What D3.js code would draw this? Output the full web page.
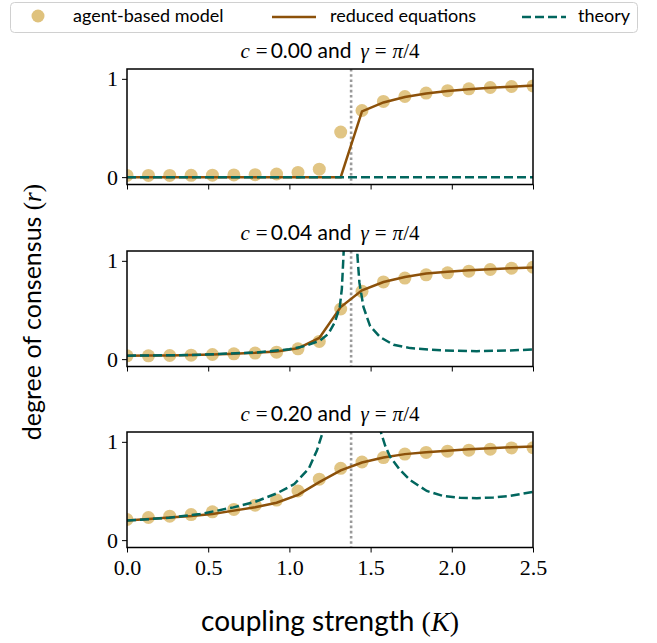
<!DOCTYPE html>
<html>
<head>
<meta charset="utf-8">
<script src="https://cdn.jsdelivr.net/npm/d3@7"></script>
<style>
  body { margin: 0; background: #fff; }
  .sans { font-family: "Lato", "DejaVu Sans", sans-serif; }
  .serif { font-family: "Liberation Serif", "DejaVu Serif", serif; }
</style>
</head>
<body>
<div id="chart"></div>
<script>
// Sample points of the coupling strength K (agent-based model and reduced equations)
const K = [0.000, 0.132, 0.263, 0.395, 0.526, 0.658, 0.789, 0.921, 1.053, 1.184,
           1.316, 1.447, 1.579, 1.711, 1.842, 1.974, 2.105, 2.237, 2.368, 2.500];

// c = 0.00
const abm1 = [0.017, 0.017, 0.017, 0.018, 0.020, 0.022, 0.025, 0.032, 0.048, 0.081,
              0.458, 0.678, 0.770, 0.820, 0.855, 0.880, 0.898, 0.912, 0.922, 0.928];
const red1 = [0, 0, 0, 0, 0, 0, 0, 0, 0, 0,
              0, 0.668, 0.760, 0.815, 0.850, 0.877, 0.895, 0.910, 0.920, 0.932];
const theoryK1 = [0, 2.5];
const theoryR1 = [0, 0];

// c = 0.04
const abm2 = [0.034, 0.034, 0.037, 0.040, 0.047, 0.054, 0.062, 0.071, 0.105, 0.180,
              0.510, 0.690, 0.785, 0.825, 0.858, 0.878, 0.895, 0.912, 0.925, 0.935];
const red2 = [0.035, 0.036, 0.038, 0.042, 0.048, 0.055, 0.064, 0.078, 0.110, 0.215,
              0.530, 0.700, 0.785, 0.835, 0.870, 0.890, 0.905, 0.915, 0.925, 0.932];
const theoryK2 = [0, 0.4, 0.8, 1.0, 1.1, 1.19, 1.24, 1.28, 1.31, 1.323, 1.333, 1.345, null,
                  1.41, 1.419, 1.431, 1.456, 1.497, 1.559, 1.641, 1.744, 1.949, 2.154, 2.359, 2.5];
const theoryR2 = [0.035, 0.042, 0.068, 0.100, 0.135, 0.190, 0.257, 0.376, 0.530, 0.715, 1.05, 1.6, null,
                  1.6, 1.05, 0.78, 0.53, 0.335, 0.224, 0.146, 0.112, 0.088, 0.081, 0.088, 0.098];

// c = 0.20
const abm3 = [0.210, 0.230, 0.244, 0.260, 0.288, 0.312, 0.356, 0.407, 0.500, 0.620,
              0.730, 0.795, 0.840, 0.875, 0.892, 0.905, 0.915, 0.925, 0.938, 0.940];
const red3 = [0.200, 0.215, 0.230, 0.245, 0.265, 0.300, 0.335, 0.380, 0.460, 0.590,
              0.710, 0.790, 0.840, 0.875, 0.895, 0.910, 0.925, 0.935, 0.945, 0.952];
const theoryK3 = [0, 0.13, 0.26, 0.45, 0.655, 0.789, 0.922, 1.03, 1.12, 1.17, 1.20, 1.22, null,
                  1.545, 1.563, 1.59, 1.62, 1.682, 1.744, 1.846, 1.949, 2.051, 2.154, 2.256, 2.359, 2.5];
const theoryR3 = [0.200, 0.213, 0.228, 0.265, 0.333, 0.390, 0.475, 0.570, 0.730, 0.915, 1.07, 1.3, null,
                  1.3, 1.1, 0.96, 0.848, 0.712, 0.610, 0.500, 0.448, 0.430, 0.427, 0.434, 0.450, 0.490];

const cValues = ["0.00", "0.04", "0.20"];
const criticalK = 1.38;
const xTicks = [0, 0.5, 1.0, 1.5, 2.0, 2.5];
const yTicks = [0, 1];

const panels = [
  { c: cValues[0], abm: abm1, red: red1, tK: theoryK1, tR: theoryR1 },
  { c: cValues[1], abm: abm2, red: red2, tK: theoryK2, tR: theoryR2 },
  { c: cValues[2], abm: abm3, red: red3, tK: theoryK3, tR: theoryR3 }
];

// Colours
const dotColor = "#dfc27d",
      redColor = "#8c510a",
      theoryColor = "#01665e";

const width = 657,
      height = 643;

const svg = d3.select("#chart").append("svg")
    .attr("width", width)
    .attr("height", height);

// Shared geometry
const left = 127, right = 533;
const panelTops = [69, 251, 432];
const panelH = 115.5;

const x = d3.scaleLinear().domain([0, 2.5]).range([left, right]);

panels.forEach((p, i) => {
  const top = panelTops[i];
  const y = d3.scaleLinear().domain([-0.075, 1.1]).range([top + panelH, top]);

  const g = svg.append("g");

  g.append("clipPath").attr("id", "clip" + i)
    .append("rect")
    .attr("x", left).attr("y", top)
    .attr("width", right - left).attr("height", panelH);

  const plot = g.append("g").attr("clip-path", `url(#clip${i})`);

  // Agent-based model dots
  plot.selectAll("circle")
    .data(p.abm)
    .enter().append("circle")
    .attr("cx", (d, j) => x(K[j]))
    .attr("cy", d => y(d))
    .attr("r", 6.5)
    .style("fill", dotColor)
    .style("opacity", 0.95);

  // Critical coupling
  plot.append("line")
    .attr("x1", x(criticalK)).attr("x2", x(criticalK))
    .attr("y1", top).attr("y2", top + panelH)
    .style("stroke", "#9a9a9a")
    .style("stroke-width", 2.6)
    .style("stroke-dasharray", "2.6,2.6");

  // Reduced equations
  const redLine = d3.line()
    .x((d, j) => x(K[j]))
    .y(d => y(d));
  plot.append("path")
    .attr("d", redLine(p.red))
    .style("fill", "none")
    .style("stroke", redColor)
    .style("stroke-width", 2.5);

  // Theory (with a gap at the divergence)
  const pts = p.tK.map((k, j) => [k, p.tR[j]]);
  const theoryLine = d3.line()
    .defined(d => d[0] !== null)
    .x(d => x(d[0]))
    .y(d => y(d[1]));
  plot.append("path")
    .attr("d", theoryLine(pts))
    .style("fill", "none")
    .style("stroke", theoryColor)
    .style("stroke-width", 2.5)
    .style("stroke-dasharray", "9,4");

  // Axes
  const xAxis = d3.axisBottom(x).tickValues(xTicks).tickSize(5)
    .tickFormat(i === 2 ? d3.format(".1f") : "");
  const gx = g.append("g")
    .attr("transform", `translate(0,${top + panelH})`)
    .call(xAxis);
  gx.select(".domain").remove();
  gx.selectAll(".tick line").style("stroke", "#000").style("stroke-width", 1);
  gx.selectAll(".tick text")
    .attr("class", "serif")
    .style("font-size", "22px")
    .attr("dy", "0.95em")
    .attr("y", 7)
    .style("fill", "#000");

  const yAxis = d3.axisLeft(y).tickValues(yTicks).tickSize(5).tickFormat(d3.format("d"));
  const gy = g.append("g")
    .attr("transform", `translate(${left},0)`)
    .call(yAxis);
  gy.select(".domain").remove();
  gy.selectAll(".tick line").style("stroke", "#000").style("stroke-width", 1);
  gy.selectAll(".tick text")
    .attr("class", "serif")
    .style("font-size", "22px")
    .attr("x", -9)
    .style("fill", "#000");

  // Frame
  g.append("rect")
    .attr("x", left).attr("y", top)
    .attr("width", right - left).attr("height", panelH)
    .style("fill", "none")
    .style("stroke", "#000")
    .style("stroke-width", 1.5);

  // Title
  const title = g.append("text")
    .attr("x", (left + right) / 2)
    .attr("y", top - 11.5)
    .attr("text-anchor", "middle")
    .style("font-size", "21px");
  title.append("tspan").attr("class", "serif").style("font-style", "italic").text("c");
  title.append("tspan").attr("class", "serif").attr("dx", 6).text("=");
  title.append("tspan").attr("class", "sans").attr("dx", 3).text(p.c + " and");
  title.append("tspan").attr("class", "serif").style("font-style", "italic").attr("dx", 9).text("γ");
  title.append("tspan").attr("class", "serif").attr("dx", 6).text("=");
  title.append("tspan").attr("class", "serif").style("font-style", "italic").attr("dx", 6).text("π");
  title.append("tspan").attr("class", "serif").text("/4");
});

// Axis labels
const xLabel = svg.append("text")
  .attr("x", (left + right) / 2)
  .attr("y", 631)
  .attr("text-anchor", "middle")
  .style("font-size", "28px");
xLabel.append("tspan").attr("class", "sans").text("coupling strength ");
xLabel.append("tspan").attr("class", "serif").text("(");
xLabel.append("tspan").attr("class", "serif").style("font-style", "italic").text("K");
xLabel.append("tspan").attr("class", "serif").text(")");

const yLabel = svg.append("text")
  .attr("transform", "translate(41,312) rotate(-90)")
  .attr("text-anchor", "middle")
  .style("font-size", "25px");
yLabel.append("tspan").attr("class", "sans").text("degree of consensus ");
yLabel.append("tspan").attr("class", "serif").text("(");
yLabel.append("tspan").attr("class", "serif").style("font-style", "italic").text("r");
yLabel.append("tspan").attr("class", "serif").text(")");

// Legend
const legend = svg.append("g").attr("class", "legend");
legend.append("rect")
  .attr("x", 10.5).attr("y", 2.5)
  .attr("width", 627).attr("height", 30)
  .attr("rx", 4)
  .style("fill", "#fff")
  .style("stroke", "#d0d0d0")
  .style("stroke-width", 1);

legend.append("circle")
  .attr("cx", 38).attr("cy", 16).attr("r", 6.5)
  .style("fill", dotColor);
legend.append("line")
  .attr("x1", 272).attr("x2", 316).attr("y1", 17).attr("y2", 17)
  .style("stroke", redColor).style("stroke-width", 2.5);
legend.append("line")
  .attr("x1", 522).attr("x2", 566).attr("y1", 17).attr("y2", 17)
  .style("stroke", theoryColor).style("stroke-width", 2.5)
  .style("stroke-dasharray", "9,4");

const legendText = [
  { x: 73, label: "agent-based model" },
  { x: 330, label: "reduced equations" },
  { x: 578, label: "theory" }
];
legend.selectAll("text")
  .data(legendText)
  .enter().append("text")
  .attr("class", "sans")
  .attr("x", d => d.x)
  .attr("y", 22)
  .style("font-size", "18px")
  .text(d => d.label);
</script>
</body>
</html>
